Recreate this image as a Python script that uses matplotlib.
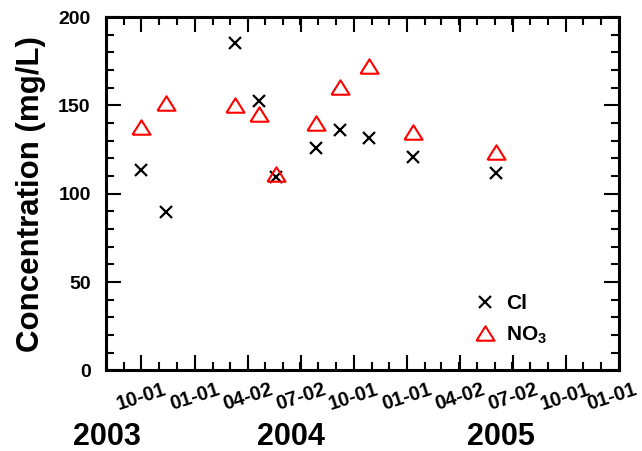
import matplotlib
matplotlib.use('Agg')
import matplotlib.pyplot as plt
import matplotlib.dates as mdates
import matplotlib.transforms as mtransforms
import numpy as np
import pandas as pd

plt.rcParams['font.family'] = ['Liberation Sans', 'DejaVu Sans']
plt.rcParams['font.weight'] = 'bold'
plt.rcParams['mathtext.fontset'] = 'custom'
plt.rcParams['mathtext.rm'] = 'Liberation Sans'
plt.rcParams['mathtext.bf'] = 'Liberation Sans:bold'

# ── Data ───────────────────────────────────────────────────────────────────────
SAMPLE_DATES = ['2003-10-01', '2003-11-13', '2004-03-10', '2004-04-21',
                '2004-05-20', '2004-07-28', '2004-09-07', '2004-10-27',
                '2005-01-11', '2005-06-03']
CL  = [113.4, 89.7, 185.1, 152.5, 109.6, 126.1, 136.1, 131.4, 121.0, 111.9]
NO3 = [137.6, 151.2, 150.2, 145.0, 111.2, 139.9, 160.2, 172.4, 135.1, 123.5]

TICK_DATES  = ['2003-10-01', '2004-01-01', '2004-04-02', '2004-07-02',
               '2004-10-01', '2005-01-01', '2005-04-02', '2005-07-02',
               '2005-10-01', '2006-01-01']
TICK_LABELS = ['10-01', '01-01', '04-02', '07-02', '10-01',
               '01-01', '04-02', '07-02', '10-01', '01-01']
YEARS     = ['2003', '2004', '2005']
YEAR_XPOS = [0.002, 0.36, 0.771]      # axes fraction
XLIM = ('2003-08-01', '2006-01-01')

dates = pd.to_datetime(SAMPLE_DATES)
ticks = pd.to_datetime(TICK_DATES)

fig = plt.figure(figsize=(6.42, 4.51), dpi=100)
ax = fig.add_axes([0.165, 0.1785, 0.799, 0.7838])

tri = [(-1, -0.8), (1, -0.8), (0, 0.8), (-1, -0.8)]
ax.plot(dates, CL, ls='none', marker='x', ms=8.5, mew=1.6, color='black',
        label='Cl')
ax.plot(dates, NO3, ls='none', marker=tri, ms=13, mew=1.5, mfc='none',
        mec='red', label='NO$_3$')

ax.set_xlim(pd.Timestamp(XLIM[0]), pd.Timestamp(XLIM[1]))
ax.set_ylim(0, 200)
ax.set_yticks(np.arange(0, 201, 50))
ax.set_yticks(np.arange(0, 201, 10), minor=True)
ax.set_xticks(ticks)
ax.set_xticklabels(TICK_LABELS)
ax.xaxis.set_minor_locator(mdates.MonthLocator())

ax.tick_params(which='both', direction='in', top=True, right=True, width=1.5)
ax.tick_params(which='major', length=11, pad=11, labelsize=14)
ax.tick_params(which='minor', length=5.5)
ax.tick_params(axis='x', which='major', labelsize=14.5, pad=7)
for lab in ax.get_xticklabels():
    lab.set_rotation(18)
    lab.set_ha('center')
# nudge the last date label so it stays inside the figure
last = ax.xaxis.get_major_ticks()[-1].label1
last.set_transform(last.get_transform() +
                   mtransforms.ScaledTranslation(-5 / 72, 0, fig.dpi_scale_trans))
for s in ax.spines.values():
    s.set_linewidth(2.2)

for yr, xp in zip(YEARS, YEAR_XPOS):
    ax.annotate(yr, xy=(xp, 0), xycoords='axes fraction',
                xytext=(0, -67), textcoords='offset pixels',
                ha='center', va='center', fontsize=22, fontweight='bold')

ax.set_ylabel('Concentration (mg/L)', fontsize=22.5, fontweight='bold',
              labelpad=9)

ax.legend(loc='upper left', bbox_to_anchor=(0.699, 0.245), frameon=False,
          borderpad=0, handlelength=1.0, handletextpad=0.5,
          labelspacing=0.55, prop={'size': 15, 'weight': 'bold'})

fig.savefig('out.png', dpi=100)
